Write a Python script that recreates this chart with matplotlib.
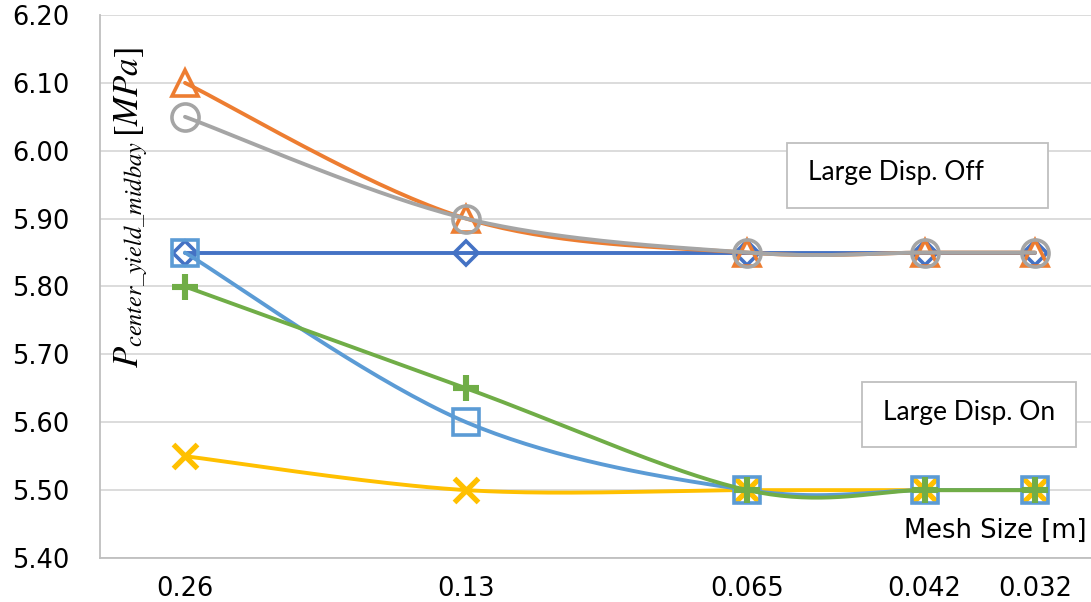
import numpy as np
import matplotlib
matplotlib.use("Agg")
import matplotlib.pyplot as plt
import matplotlib.ticker as mticker
from matplotlib.patches import Rectangle

# Données
mesh = [0.26, 0.13, 0.065, 0.042, 0.032]
mesh_labels = ["0.26", "0.13", "0.065", "0.042", "0.032"]

off_diamond = [5.85, 5.85, 5.85, 5.85, 5.85]
off_triangle = [6.10, 5.90, 5.85, 5.85, 5.85]
off_circle = [6.05, 5.90, 5.85, 5.85, 5.85]
on_cross = [5.55, 5.50, 5.50, 5.50, 5.50]
on_square = [5.85, 5.60, 5.50, 5.50, 5.50]
on_plus = [5.80, 5.65, 5.50, 5.50, 5.50]

W, H = 1091, 602


def smooth(xs, ys, n=40):
    """Lissage façon Excel (Bezier / Catmull-Rom) dans l'espace log(x), y."""
    u = np.log10(np.asarray(xs, float))
    v = np.asarray(ys, float)
    pts = np.column_stack([u, v])
    m = len(pts)
    t = np.linspace(0, 1, n)[:, None]
    out = []
    for i in range(m - 1):
        p0 = pts[max(i - 1, 0)]
        p1 = pts[i]
        p2 = pts[i + 1]
        p3 = pts[min(i + 2, m - 1)]
        c1 = p1 + (p2 - p0) / 6
        c2 = p2 - (p3 - p1) / 6
        seg = ((1 - t) ** 3) * p1 + 3 * ((1 - t) ** 2) * t * c1 + 3 * (1 - t) * t ** 2 * c2 + t ** 3 * p2
        out.append(seg if i == 0 else seg[1:])
    out = np.vstack(out)
    return 10 ** out[:, 0], out[:, 1]


fig = plt.figure(figsize=(W / 100, H / 100), dpi=100)
ax = fig.add_axes([100 / W, 1 - 558 / H, 1 - 100 / W, (558 - 15) / H])

series = [
    (off_diamond, "#4472C4", "D", 12.5, 2.6),
    (off_triangle, "#ED7D31", "^", 18.5, 2.6),
    (off_circle, "#A5A5A5", "o", 19.5, 2.6),
    (on_cross, "#FFC000", "x", 17.5, 3.8),
    (on_square, "#5B9BD5", "s", 18.5, 2.6),
    (on_plus, "#70AD47", "+", 18.5, 4.4),
]

for ys, col, mk, ms, mew in series:
    sx, sy = smooth(mesh, ys)
    ax.plot(sx, sy, color=col, lw=2.8, solid_capstyle="round")
    ax.plot(mesh, ys, ls="none", marker=mk, ms=ms, mew=mew, mec=col, mfc="none")

ax.set_xscale("log")
ax.set_xlim(0.3206, 0.02787)
ax.set_ylim(5.40, 6.20)
ax.xaxis.set_major_locator(mticker.FixedLocator(mesh))
ax.xaxis.set_minor_locator(mticker.NullLocator())
ax.xaxis.set_major_formatter(mticker.FixedFormatter(mesh_labels))
ax.yaxis.set_major_locator(mticker.MultipleLocator(0.1))
ax.yaxis.set_major_formatter(mticker.StrMethodFormatter("{x:.2f}"))

ax.tick_params(axis="both", length=0, labelsize=18.5)
ax.tick_params(axis="y", pad=22)
ax.tick_params(axis="x", pad=13)
for lab in ax.get_xticklabels() + ax.get_yticklabels():
    lab.set_family("DejaVu Sans")

ax.grid(axis="y", color="#d9d9d9", lw=1.3)
ax.set_axisbelow(True)
for s in ["top", "right"]:
    ax.spines[s].set_visible(False)
for s in ["left", "bottom"]:
    ax.spines[s].set_color("#bfbfbf")
    ax.spines[s].set_linewidth(1.3)

# Étiquette de l'axe y (dans la zone de tracé)
plt.rcParams["mathtext.fontset"] = "stix"
fig.text(131 / W, 1 - 208 / H, r"$P_{center\_yield\_midbay}\,[MPa]$",
         rotation=90, ha="center", va="center", fontsize=25)

# Titre de l'axe x
fig.text(1087 / W, 1 - 538 / H, "Mesh Size [m]", ha="right", va="baseline",
         fontsize=18.5, family="DejaVu Sans")

# Encadrés
for (x0, y0, x1, y1), tx, base, label in [
    ((787, 143, 1048, 208), 808, 180, "Large Disp. Off"),
    ((862, 382, 1076, 447), 883, 420, "Large Disp. On"),
]:
    fig.patches.append(Rectangle((x0 / W, 1 - y1 / H), (x1 - x0) / W, (y1 - y0) / H,
                                 transform=fig.transFigure, facecolor="white",
                                 edgecolor="#bfbfbf", lw=1.3, zorder=5))
    fig.text(tx / W, 1 - base / H, label, ha="left", va="baseline",
             fontsize=19, family="Lato", zorder=6)

fig.savefig("out.png", dpi=100)
